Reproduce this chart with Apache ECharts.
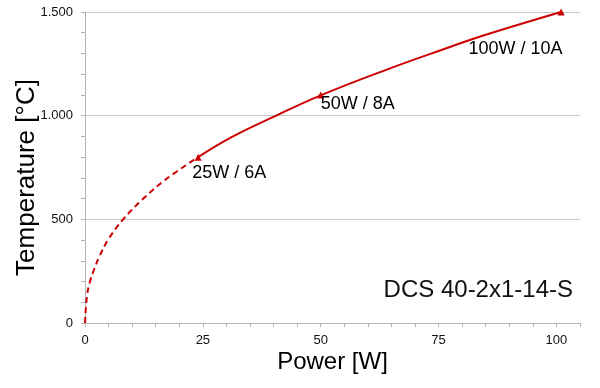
<!DOCTYPE html>
<html>
<head>
<meta charset="utf-8">
<script src="https://cdn.jsdelivr.net/npm/echarts@6/dist/echarts.min.js"></script>
<style>html,body{margin:0;padding:0;background:#fff}#c{width:600px;height:388px}</style>
</head>
<body>
<div id="c"></div>
<script>
// Data
var dashedPower = [0, 0.4, 1, 2, 3, 5, 8, 12, 17, 24];
var dashedTemp  = [0, 127, 195, 262, 318, 405, 497, 592, 690, 800];
var solidPower  = [24, 31, 41, 50, 64, 75, 85, 101];
var solidTemp   = [800, 895, 1005, 1098, 1222, 1312, 1390, 1500];
var markerPower = [24, 50, 101];
var markerTemp  = [800, 1100, 1500];
var markerLabels = ['25W / 6A', '50W / 8A', '100W / 10A'];
var xTickLabels = [0, 25, 50, 75, 100];
var yTickLabels = [0, 500, 1000, 1500];
var title = 'DCS 40-2x1-14-S';

function zip(a, b) { return a.map(function (v, i) { return [v, b[i]]; }); }
function fmt(v) { return String(v).replace(/\B(?=(\d{3})+(?!\d))/g, '.'); }

var labelStyles = [
  { position: [-2.5, 19.5], align: 'left' },
  { position: [3.5, 13], align: 'left' },
  { position: [4.8, 41], align: 'right' }
];

var FONT = '"Liberation Sans", Arial, sans-serif';
var RED = '#cc0000';

var chart = echarts.init(document.getElementById('c'), null, { renderer: 'canvas' });
chart.setOption({
  animation: false,
  backgroundColor: '#fff',
  grid: { left: 85, right: 20, top: 12, bottom: 65, containLabel: false, outerBoundsMode: 'none' },
  xAxis: {
    type: 'value', min: 0, max: 105, interval: 5,
    name: 'Power [W]', nameLocation: 'middle', nameGap: 27, nameMoveOverlap: false,
    nameTextStyle: { fontFamily: FONT, fontSize: 24, color: '#000' },
    axisLine: { lineStyle: { color: '#b4b4b4', width: 1 } },
    axisTick: { show: true, length: 4, lineStyle: { color: '#b4b4b4' } },
    axisLabel: {
      margin: 11, fontFamily: FONT, fontSize: 13, color: '#111',
      formatter: function (v) { return xTickLabels.indexOf(v) >= 0 ? String(v) : ''; }
    },
    splitLine: { show: false }
  },
  yAxis: {
    type: 'value', min: 0, max: 1500, interval: 500,
    name: 'Temperature [°C]', nameLocation: 'middle', nameGap: 45, nameMoveOverlap: false,
    nameTextStyle: { fontFamily: FONT, fontSize: 26, color: '#000', padding: [0, 20, 0, 0] },
    axisLine: { show: true, lineStyle: { color: '#b4b4b4', width: 1 } },
    axisTick: { show: true, length: 4, lineStyle: { color: '#b4b4b4' } },
    minorTick: { show: true, splitNumber: 5, length: 4, lineStyle: { color: '#b4b4b4' } },
    axisLabel: {
      margin: 12, fontFamily: FONT, fontSize: 13, color: '#111',
      formatter: function (v) { return yTickLabels.indexOf(v) >= 0 ? fmt(v) : ''; }
    },
    splitLine: { show: true, lineStyle: { color: '#c8c8c8', width: 1 } }
  },
  series: [
    {
      type: 'line', data: zip(dashedPower, dashedTemp), smooth: 0.4,
      showSymbol: false, lineStyle: { color: RED, width: 2, type: [6, 4] }
    },
    {
      type: 'line', data: zip(solidPower, solidTemp), smooth: 0.4,
      showSymbol: false, lineStyle: { color: RED, width: 2 }
    },
    {
      type: 'scatter', symbol: 'triangle', symbolSize: 7,
      itemStyle: { color: RED, opacity: 1 },
      data: markerPower.map(function (p, i) {
        return {
          value: [p, markerTemp[i]],
          label: {
            show: true, formatter: markerLabels[i],
            position: labelStyles[i].position, align: labelStyles[i].align,
            verticalAlign: 'middle', fontFamily: FONT, fontSize: 18, color: '#000', opacity: 1
          }
        };
      })
    }
  ],
  graphic: [{
    type: 'text', right: 27, top: 278,
    style: { text: title, fontFamily: FONT, fontSize: 24, fill: '#111' }
  }]
});
</script>
</body>
</html>
